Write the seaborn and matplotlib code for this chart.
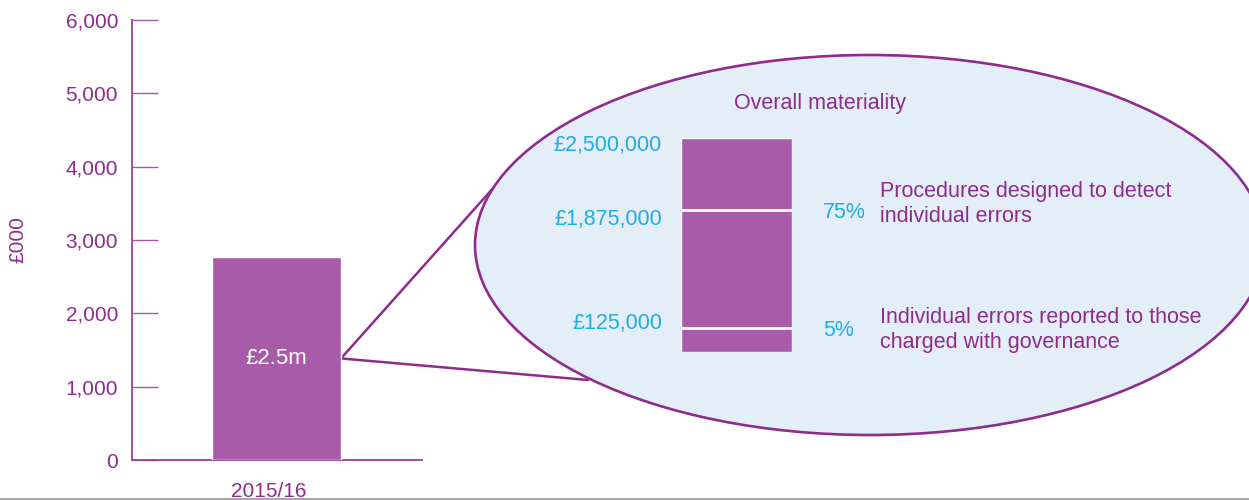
import numpy as np
import pandas as pd
import seaborn as sns
import matplotlib.pyplot as plt
from matplotlib.patches import Ellipse
from matplotlib.lines import Line2D
from matplotlib.transforms import ScaledTranslation

# chart data
years = ["2015/16"]
materiality_k = [2770]          # £000, bar height
bar_label = "£2.5m"
y_ticks = [0, 1000, 2000, 3000, 4000, 5000, 6000]

# zoomed diagram
levels = ["£2,500,000", "£1,875,000", "£125,000"]
pcts = ["75%", "5%"]
notes = ["Procedures designed to detect\nindividual errors",
         "Individual errors reported to those\ncharged with governance"]
zoom_title = "Overall materiality"

PURPLE = "#A85BA8"
DARK = "#8E2B8E"
CYAN = "#1FADE4"
FILL = "#E3EEF8"

sns.set_theme(style="white")
plt.rcParams["font.family"] = ["Liberation Sans", "DejaVu Sans"]

W, H = 1249, 500
fig = plt.figure(figsize=(W / 100, H / 100), dpi=100)

# pixel overlay for the callout
ov = fig.add_axes([0, 0, 1, 1], zorder=0)
ov.set_xlim(0, W)
ov.set_ylim(H, 0)
ov.axis("off")

ax = fig.add_axes([132 / W, 40 / H, 290 / W, 440 / H], zorder=1)
ax.set_facecolor("none")
df = pd.DataFrame({"year": years, "value": materiality_k})
sns.barplot(data=df, x="year", y="value", color=PURPLE, saturation=1,
            width=1.0, ax=ax, zorder=3)
ax.set_xlim(-1.12, 1.128)
ax.set_ylim(0, 6000)
ax.set_yticks(y_ticks)
ax.set_yticklabels([f"{v:,}" for v in y_ticks])
ax.tick_params(axis="y", direction="in", length=19, width=1.0, color="#A55AA5",
               labelcolor=DARK, labelsize=15, pad=10, left=True)
ax.tick_params(axis="x", length=0, labelcolor=DARK, labelsize=15, pad=16)
shift = ScaledTranslation(-8 / 100, 0, fig.dpi_scale_trans)
for lbl in ax.get_xticklabels():
    lbl.set_transform(lbl.get_transform() + shift)
for s in ["top", "right"]:
    ax.spines[s].set_visible(False)
for s in ["left", "bottom"]:
    ax.spines[s].set_color("#9B3F9B")
    ax.spines[s].set_linewidth(1.3)
ax.set_xlabel("")
ax.set_ylabel("£000", color=DARK, fontsize=15)
ax.yaxis.set_label_coords(-0.36, 0.5)
ax.text(0, materiality_k[0] / 2, bar_label, color="white", fontsize=16,
        ha="center", va="center", zorder=4)

# callout lines from bar edge to ellipse
inv = ov.transData.inverted()
px, py = inv.transform(ax.transData.transform((0.5, materiality_k[0] / 2)))
for ex, ey in [(495, 186), (588, 380)]:
    ov.add_line(Line2D([px, ex], [py, ey], color=DARK, lw=1.8, zorder=1))
ov.add_patch(Ellipse((870, 245), 790, 380, facecolor=FILL, edgecolor=DARK,
                     lw=1.9, zorder=2))

# zoomed bar
iax = fig.add_axes([681 / W, (H - 352) / H, 111 / W, 214 / H], zorder=2)
iax.set_facecolor("none")
sns.barplot(x=[0], y=[1.0], color=PURPLE, saturation=1, width=1.0, ax=iax)
iax.set_xlim(-0.5, 0.5)
iax.set_ylim(0, 1)
for yy in [0.664, 0.112]:
    iax.axhline(yy, color="white", lw=2.0)
iax.axis("off")

txt = dict(fontsize=15.5, zorder=3)
ov.text(820, 103, zoom_title, color=DARK, ha="center", va="center", **txt)
for lab, yy in zip(levels, [145, 219, 324]):
    ov.text(662, yy, lab, color=CYAN, ha="right", va="center", **txt)
for p, yy in zip(pcts, [213, 330]):
    ov.text(823, yy, p, color=CYAN, ha="left", va="center", **txt)
for n, yy in zip(notes, [204, 330]):
    ov.text(880, yy, n, color=DARK, ha="left", va="center", linespacing=1.2, **txt)

fig.add_artist(Line2D([0, 1], [1.5 / H, 1.5 / H], color="#A8A8A8", lw=1.5,
                      transform=fig.transFigure))

fig.savefig("out.png", dpi=100)
